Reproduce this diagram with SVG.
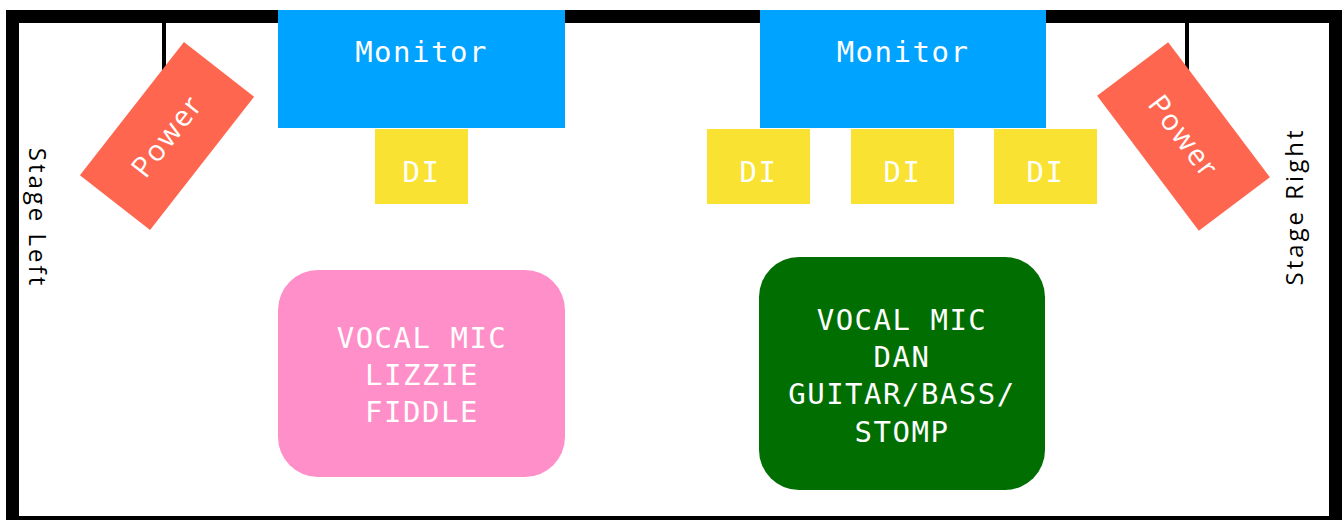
<svg xmlns="http://www.w3.org/2000/svg" width="1344" height="520" viewBox="0 0 1344 520">
<style>
.mono{font-family:"DejaVu Sans Mono",monospace;font-size:29px;fill:#fff;text-anchor:middle;letter-spacing:1.5px}
.sans{font-family:"Open Sans",sans-serif;fill:#fff;text-anchor:middle}
.side{font-family:"Open Sans",sans-serif;font-size:24px;fill:#000;text-anchor:middle;letter-spacing:3px}
.mon{fill:#00A3FF}
.di{fill:#F9E231}
.pow{fill:#FE6650}
</style>
<rect x="0" y="0" width="1344" height="520" fill="#fff"/>
<g id="stage">
<rect x="6" y="10" width="1336" height="520" fill="#000"/>
<rect x="19" y="23" width="1310" height="493" fill="#fff"/>
</g>
<g id="connectors" stroke="#000" stroke-width="4">
<line x1="164" y1="23" x2="164" y2="80"/>
<line x1="1187" y1="23" x2="1187" y2="80"/>
</g>
<g id="power-left">
<rect class="pow" x="82.5" y="91.5" width="169" height="89" transform="rotate(-52 167 136)"/>
<text class="sans" font-size="29" letter-spacing="2" x="167" y="146" transform="rotate(-52 167 136)">Power</text>
</g>
<g id="power-right">
<rect class="pow" x="1099" y="92" width="169" height="89" transform="rotate(53 1183.5 136.5)"/>
<text class="sans" font-size="29" letter-spacing="2" x="1183.5" y="146.5" transform="rotate(53 1183.5 136.5)">Power</text>
</g>
<g id="monitor-left">
<rect class="mon" x="278" y="10" width="287" height="118"/>
<text class="mono" x="421.5" y="62">Monitor</text>
</g>
<g id="monitor-right">
<rect class="mon" x="760" y="10" width="286" height="118"/>
<text class="mono" x="903" y="62">Monitor</text>
</g>
<g id="di-1">
<rect class="di" x="375" y="129" width="93" height="75"/>
<text class="mono" x="421.5" y="182">DI</text>
</g>
<g id="di-2">
<rect class="di" x="707" y="129" width="103" height="75"/>
<text class="mono" x="758.5" y="182">DI</text>
</g>
<g id="di-3">
<rect class="di" x="851" y="129" width="103" height="75"/>
<text class="mono" x="902.5" y="182">DI</text>
</g>
<g id="di-4">
<rect class="di" x="994" y="129" width="103" height="75"/>
<text class="mono" x="1045.5" y="182">DI</text>
</g>
<g id="lizzie">
<rect x="278" y="270" width="287" height="207" rx="40" ry="40" fill="#FF8FC8"/>
<text class="mono" x="422" y="348">VOCAL MIC</text>
<text class="mono" x="422" y="385">LIZZIE</text>
<text class="mono" x="422" y="422">FIDDLE</text>
</g>
<g id="dan">
<rect x="759" y="257" width="286" height="233" rx="40" ry="40" fill="#006E00"/>
<text class="mono" x="902" y="330">VOCAL MIC</text>
<text class="mono" x="902" y="367">DAN</text>
<text class="mono" x="902" y="404">GUITAR/BASS/</text>
<text class="mono" x="902" y="442">STOMP</text>
</g>
<g id="stage-left">
<text class="side" x="218" y="-29" transform="rotate(90)">Stage Left</text>
</g>
<g id="stage-right">
<text class="side" x="-206.5" y="1303" transform="rotate(-90)">Stage Right</text>
</g>
</svg>
